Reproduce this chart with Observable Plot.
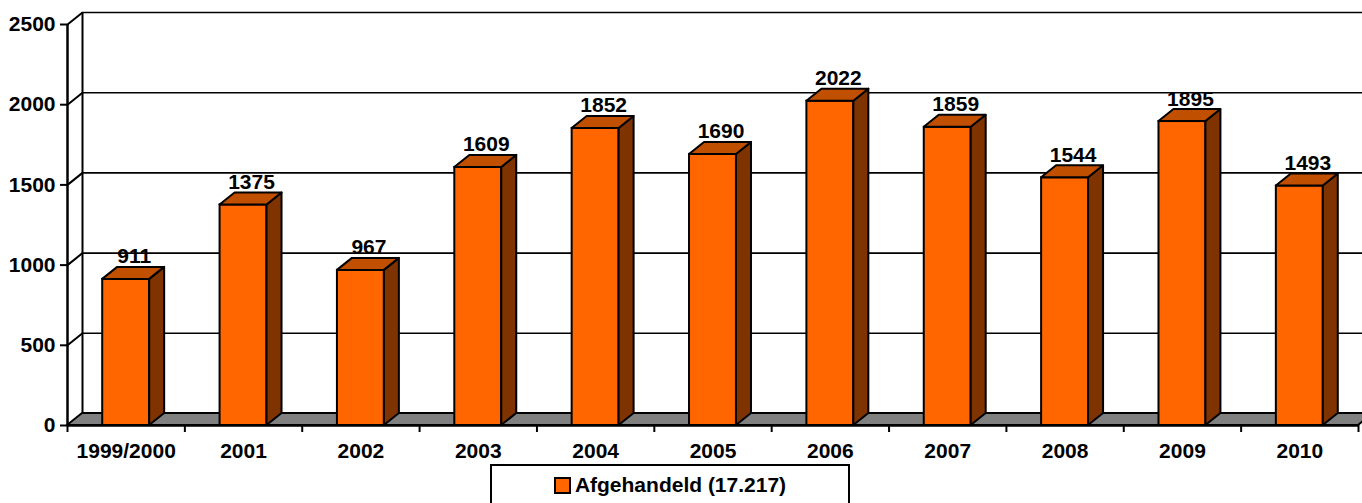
<!DOCTYPE html>
<html>
<head>
<meta charset="utf-8">
<script src="https://cdn.jsdelivr.net/npm/d3@7"></script>
<script src="https://cdn.jsdelivr.net/npm/@observablehq/plot@0.6"></script>
<style>
  html, body { margin: 0; padding: 0; background: #fff; }
  body { width: 1362px; height: 503px; overflow: hidden; font-family: "Liberation Sans", Arial, sans-serif; }
  #legend {
    position: absolute; left: 490px; top: 464px; width: 360px; height: 46px;
    border: 2px solid #000; box-sizing: border-box; background: #fff;
    display: flex; justify-content: center; align-items: flex-start; padding-top: 7px;
    font-weight: bold; font-size: 21px; color: #000;
  }
  #legend .sw { width: 13px; height: 13px; background: #FF6600; border: 2px solid #000; margin-right: 4px; margin-top: 4px; }
</style>
</head>
<body>
<div id="chart"></div>
<div id="legend"><span class="sw"></span><span>Afgehandeld (17.217)</span></div>
<script>
const categories = ["1999/2000", "2001", "2002", "2003", "2004", "2005", "2006", "2007", "2008", "2009", "2010"];
const values = [911, 1375, 967, 1609, 1852, 1690, 2022, 1859, 1544, 1895, 1493];
const yTicks = [0, 500, 1000, 1500, 2000, 2500];
const seriesName = "Afgehandeld (17.217)";

const W = 1362, H = 462;
const mL = 67, mR = 4, mT = 24, mB = 37;
const n = categories.length;
const yMax = 2500;
// 3D depth offset in pixels, converted to data units
const DXpx = 15, DYpx = 12;
const OX = DXpx / ((W - mL - mR) / n);
const OY = DYpx / ((H - mT - mB) / yMax);
const HW = 0.2; // half bar width in category units

const bars = categories.map((c, i) => ({c, i, v: values[i], xl: i + 0.5 - HW, xr: i + 0.5 + HW}));
const sides = bars.flatMap(b => [
  {i: b.i, x: b.xr, y1: 0, y2: b.v},
  {i: b.i, x: b.xr + OX, y1: OY, y2: b.v + OY}
]);
const tops = bars.flatMap(b => [
  {i: b.i, y: b.v, x1: b.xl, x2: b.xr},
  {i: b.i, y: b.v + OY, x1: b.xl + OX, x2: b.xr + OX}
]);
const floor = [
  {y: 0, x1: 0, x2: n},
  {y: OY, x1: OX, x2: n + OX}
];

const chart = Plot.plot({
  width: W, height: H,
  marginLeft: mL, marginRight: mR, marginTop: mT, marginBottom: mB,
  style: {fontFamily: "Liberation Sans, Arial, sans-serif", fontSize: "21px", fontWeight: "bold", color: "#000", background: "#fff"},
  x: {type: "linear", domain: [0, n]},
  y: {type: "linear", domain: [0, yMax]},
  marks: [
    // back wall gridlines
    Plot.ruleY(yTicks.filter(t => t > 0), {y: d => d + OY, x1: OX, x2: n + OX + 1, stroke: "#000", strokeWidth: 1.6}),
    // back wall left edge
    Plot.ruleX([OX], {y1: OY, y2: yMax + OY, stroke: "#000", strokeWidth: 2}),
    // side wall diagonals
    Plot.link(yTicks, {x1: 0, y1: d => d, x2: OX, y2: d => d + OY, stroke: "#000", strokeWidth: 2}),
    // floor
    Plot.areaX(floor, {y: "y", x1: "x1", x2: "x2", fill: "#808080", stroke: "#000", strokeWidth: 2}),
    // bar fronts
    Plot.rect(bars, {x1: "xl", x2: "xr", y1: 0, y2: "v", fill: "#FF6600", stroke: "#000", strokeWidth: 2}),
    // bar sides
    Plot.areaY(sides, {x: "x", y1: "y1", y2: "y2", z: "i", fill: "#7F3300", stroke: "#000", strokeWidth: 2}),
    // bar tops
    Plot.areaX(tops, {y: "y", x1: "x1", x2: "x2", z: "i", fill: "#C05000", stroke: "#000", strokeWidth: 2}),
    // front axes
    Plot.ruleY([0], {x1: 0, x2: n, stroke: "#000", strokeWidth: 2.5}),
    Plot.ruleX([0], {y1: 0, y2: yMax, stroke: "#000", strokeWidth: 2.5}),
    Plot.axisY({ticks: yTicks, tickSize: 7, tickPadding: 5, strokeWidth: 2, tickFormat: d => String(d)}),
    Plot.axisX({ticks: d3.range(0, n + 1), tickSize: 7, tickFormat: () => "", strokeWidth: 2}),
    Plot.axisX({ticks: d3.range(n).map(i => i + 0.5), tickSize: 0, tickPadding: 18, tickFormat: d => categories[Math.floor(d)]}),
    // value labels
    Plot.text(bars, {x: d => d.i + 0.5, y: d => d.v + OY, text: d => String(d.v), lineAnchor: "bottom", dx: 8, dy: -4, fontSize: 21, fontWeight: "bold", fill: "#000"})
  ]
});
document.getElementById("chart").appendChild(chart);
</script>
</body>
</html>
